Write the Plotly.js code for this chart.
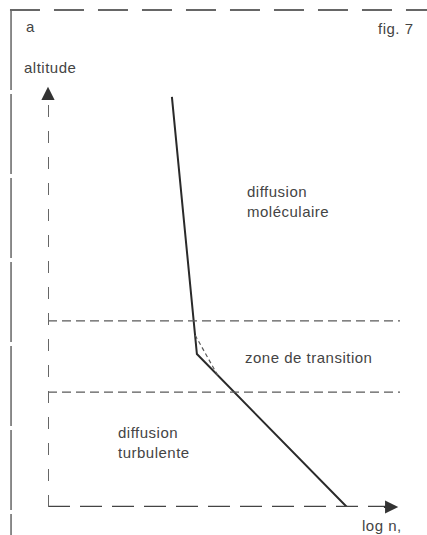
<!DOCTYPE html>
<html><head><meta charset="utf-8">
<script src="https://cdn.plot.ly/plotly-3.0.1.min.js"></script>
<style>html,body{margin:0;padding:0;background:#fff}#c{width:427px;height:535px}
.annotation-text{letter-spacing:0.5px}</style>
</head><body><div id="c"></div>
<script>
// data (arbitrary units: log n on x, altitude on y)
const profileX = [3.52, 4.23, 8.49];
const profileY = [9.79, 3.65, 0];
const smoothX = [4.18, 4.83];
const smoothY = [4.10, 3.13];
const boundaryLevels = [4.44, 2.74];
const regionLabels = ["diffusion<br>moléculaire", "zone de transition", "diffusion<br>turbulente"];
const regionX = [5.60, 5.54, 1.93];
const regionY = [7.30, 3.56, 1.54];

const ink = '#2a2a2a', grey = '#5a5a5a';
const font = {family: 'Liberation Sans, Arial, sans-serif', size: 15, color: '#444'};

const traces = [
  {x: profileX, y: profileY, mode: 'lines', line: {color: ink, width: 2}, hoverinfo: 'skip'},
  {x: smoothX, y: smoothY, mode: 'lines', line: {color: grey, width: 1.2, dash: '4px,3px'}, hoverinfo: 'skip'}
];

const shapes = [];
boundaryLevels.forEach(v => shapes.push({type: 'line', xref: 'x', yref: 'y', x0: 0, x1: 10, y0: v, y1: v,
  line: {color: grey, width: 1.3, dash: '9px,5px'}}));
// axes
shapes.push({type: 'line', xref: 'x', yref: 'y', x0: 0, x1: 9.8, y0: 0, y1: 0, line: {color: '#444', width: 2.5, dash: '22px,10px'}});
shapes.push({type: 'line', xref: 'x', yref: 'y', x0: 0, x1: 0, y0: 0, y1: 9.7, line: {color: '#666', width: 2, dash: '12px,14px'}});
// frame
shapes.push({type: 'line', xref: 'paper', yref: 'paper', x0: -0.105, x1: -0.105, y0: 1.186, y1: -0.07, line: {color: '#666', width: 1.5, dash: '80px,4px'}});
shapes.push({type: 'line', xref: 'paper', yref: 'paper', x0: -0.108, x1: 1.08, y0: 1.186, y1: 1.186, line: {color: '#666', width: 2, dash: '30px,14px'}});

const annotations = regionLabels.map((t, i) => ({x: regionX[i], y: regionY[i], xref: 'x', yref: 'y', text: t,
  showarrow: false, xanchor: 'left', yanchor: 'middle', align: 'left', font: font}));
// axis arrowheads
annotations.push({x: 9.95, y: 0, ax: 9.5, ay: 0, xref: 'x', yref: 'y', axref: 'x', ayref: 'y', text: '',
  showarrow: true, arrowhead: 2, arrowsize: 1.2, arrowwidth: 2.2, arrowcolor: '#333'});
annotations.push({x: 0, y: 10.03, ax: 0, ay: 9.7, xref: 'x', yref: 'y', axref: 'x', ayref: 'y', text: '',
  showarrow: true, arrowhead: 2, arrowsize: 1.2, arrowwidth: 2.2, arrowcolor: '#333'});
// texts
annotations.push({x: -0.051, y: 1.146, xref: 'paper', yref: 'paper', text: 'a', showarrow: false, xanchor: 'center', yanchor: 'middle', font: font});
annotations.push({x: 1.045, y: 1.143, xref: 'paper', yref: 'paper', text: 'fig. 7', showarrow: false, xanchor: 'right', yanchor: 'middle', font: font});
annotations.push({x: -0.074, y: 1.05, xref: 'paper', yref: 'paper', text: 'altitude', showarrow: false, xanchor: 'left', yanchor: 'middle', font: font});
annotations.push({x: 1.012, y: -0.043, xref: 'paper', yref: 'paper', text: 'log n,', showarrow: false, xanchor: 'right', yanchor: 'middle', font: font});

Plotly.newPlot('c', traces, {
  width: 427, height: 535,
  margin: {l: 48, r: 27, t: 88, b: 28},
  paper_bgcolor: '#fff', plot_bgcolor: '#fff',
  showlegend: false,
  xaxis: {range: [0, 10], visible: false, fixedrange: true},
  yaxis: {range: [0, 10], visible: false, fixedrange: true},
  shapes: shapes, annotations: annotations
}, {displayModeBar: false, staticPlot: true});
</script></body></html>
